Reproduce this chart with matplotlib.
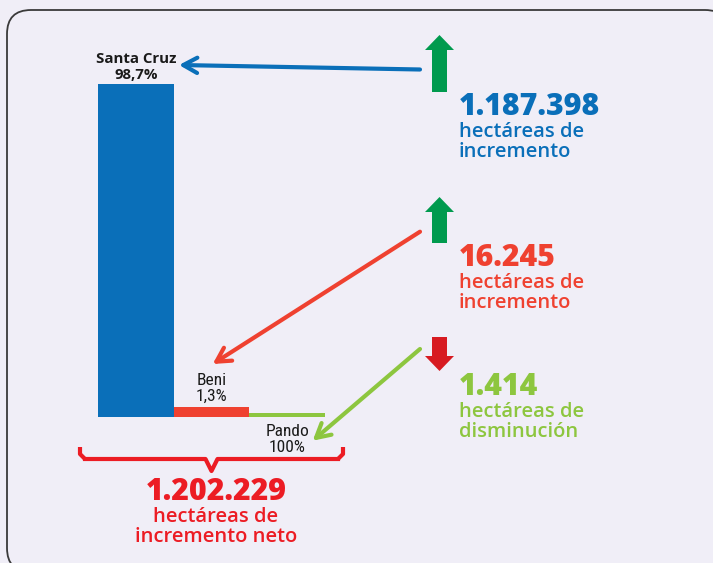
import matplotlib
matplotlib.use("Agg")
import matplotlib.pyplot as plt
from matplotlib.patches import FancyBboxPatch

# datos
departamentos = ["Santa Cruz", "Beni", "Pando"]
porcentajes = ["98,7%", "1,3%", "100%"]
# altura visual de cada barra (en % de la barra mayor)
alturas = [100, 3.0, 1.4]
colores_barra = ["#0a6fb9", "#ef4130", "#8dc63f"]

hectareas = ["1.187.398", "16.245", "1.414"]
descripcion = ["hectáreas de\nincremento", "hectáreas de\nincremento", "hectáreas de\ndisminución"]
tendencia = ["sube", "sube", "baja"]
total_neto = "1.202.229"
total_texto = "hectáreas de\nincremento neto"

W, H = 713, 563
BG = "#f0eef7"
azul = "#0a6fb9"
rojo = "#ef4130"
rojo_total = "#ec1c24"
verde_claro = "#8dc63f"
verde = "#009a4e"
rojo_flecha = "#d71a21"
colores_texto = [azul, rojo, verde_claro]

fuente = "Open Sans"
narrow = ["Roboto Condensed", "Roboto", "DejaVu Sans"]

fig = plt.figure(figsize=(W / 100, H / 100), dpi=100)
fig.patch.set_facecolor(BG)

# capa en pixeles para todo lo que no son barras
ax = fig.add_axes([0, 0, 1, 1])
ax.set_xlim(0, W)
ax.set_ylim(H, 0)
ax.axis("off")
ax.set_facecolor(BG)

panel = FancyBboxPatch((7, 10), 722, 562, boxstyle="round,pad=0,rounding_size=24",
                       fc=BG, ec="#3a3a3a", lw=1.3, zorder=0, clip_on=False)
ax.add_patch(panel)

# barras
bar_left, bar_w, bar_base, bar_h = 98, 227, 417.3, 333.3
axb = fig.add_axes([bar_left / W, (H - bar_base) / H, bar_w / W, bar_h / H])
axb.bar(range(len(alturas)), alturas, width=1.0, color=colores_barra, align="center")
axb.set_xlim(-0.5, len(alturas) - 0.5)
axb.set_ylim(0, 100)
axb.axis("off")

cx = [bar_left + (i + 0.5) * bar_w / 3 for i in range(3)]

# etiquetas de barras
ax.text(cx[0], 63, departamentos[0], ha="center", va="baseline", fontsize=10.8,
        fontweight="bold", family=fuente, color="#1a1a1a")
ax.text(cx[0], 79, porcentajes[0], ha="center", va="baseline", fontsize=10.8,
        fontweight="bold", family=fuente, color="#1a1a1a")
ax.text(cx[1], 385, departamentos[1], ha="center", va="baseline", fontsize=12.5,
        family=narrow, color="#1a1a1a")
ax.text(cx[1], 401, porcentajes[1], ha="center", va="baseline", fontsize=12.5,
        family=narrow, color="#1a1a1a")
ax.text(cx[2], 436, departamentos[2], ha="center", va="baseline", fontsize=12.5,
        family=narrow, color="#1a1a1a")
ax.text(cx[2], 452, porcentajes[2], ha="center", va="baseline", fontsize=12.5,
        family=narrow, color="#1a1a1a")

# flechas finas hacia las barras
puntas = [(179, 65), (212.7, 364), (312.7, 440.7)]
inicios = [(420, 69.5), (420, 231.7), (420, 349)]
for i in range(3):
    ax.annotate("", xy=puntas[i], xytext=inicios[i],
                arrowprops=dict(arrowstyle="->,head_length=1.0,head_width=0.55",
                                lw=3, color=colores_barra[i], shrinkA=0, shrinkB=0))

# flechas de tendencia y textos
bloques_y = [(35, 92), (197, 243), (337, 371)]
num_base = [115, 266, 395]
for i in range(3):
    top, bot = bloques_y[i]
    c = verde if tendencia[i] == "sube" else rojo_flecha
    if tendencia[i] == "sube":
        ax.arrow(439.5, bot, 0, top - bot, width=15, head_width=29, head_length=15,
                 length_includes_head=True, fc=c, ec="none")
    else:
        ax.arrow(439.5, top, 0, bot - top, width=15, head_width=29, head_length=15,
                 length_includes_head=True, fc=c, ec="none")
    ax.text(459, num_base[i], hectareas[i], ha="left", va="baseline", fontsize=21.8,
            fontweight=800, family=fuente, color=colores_texto[i])
    l1, l2 = descripcion[i].split("\n")
    ax.text(459, num_base[i] + 22, l1, ha="left", va="baseline", fontsize=14.5,
            fontweight="semibold", family=fuente, color=colores_texto[i])
    ax.text(459, num_base[i] + 42, l2, ha="left", va="baseline", fontsize=14.5,
            fontweight="semibold", family=fuente, color=colores_texto[i])

# llave inferior
bx0, bx1, by0, by1, bmid, btip = 80, 343, 447, 459, 211.5, 471
r = 5
ax.plot([bx0, bx0, bx0 + r], [by0, by1 - r, by1], color=rojo_total, lw=3,
        solid_capstyle="butt", solid_joinstyle="round")
ax.plot([bx1, bx1, bx1 - r], [by0, by1 - r, by1], color=rojo_total, lw=3,
        solid_capstyle="butt", solid_joinstyle="round")
ax.plot([bx0 + r, bmid - 6, bmid, bmid + 6, bx1 - r], [by1, by1, btip, by1, by1],
        color=rojo_total, lw=3, solid_joinstyle="round")

ax.text(216, 500, total_neto, ha="center", va="baseline", fontsize=21.8,
        fontweight=800, family=fuente, color=rojo_total)
t1, t2 = total_texto.split("\n")
ax.text(216, 522, t1, ha="center", va="baseline", fontsize=14.5,
        fontweight="semibold", family=fuente, color=rojo_total)
ax.text(216, 542, t2, ha="center", va="baseline", fontsize=14.5,
        fontweight="semibold", family=fuente, color=rojo_total)

fig.savefig("out.png", dpi=100, facecolor=BG)
